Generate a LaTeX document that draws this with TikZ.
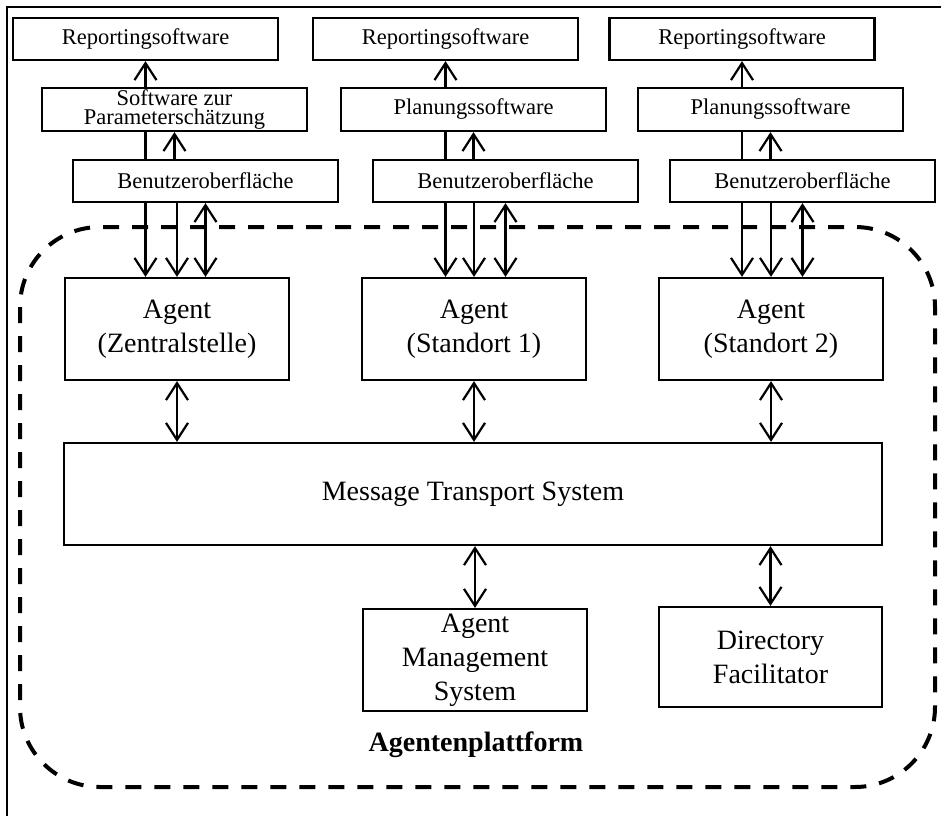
\documentclass[tikz,border=0pt]{standalone}
\usepackage{fontspec}
\setmainfont{Liberation Serif}
\usetikzlibrary{arrows.meta}
\begin{document}
\begin{tikzpicture}[x=1pt,y=-1pt,
  smallbox/.style={draw,line width=2.2pt,inner sep=0pt,minimum width=265pt,minimum height=42pt,
    align=center,font=\fontsize{22.5}{19}\selectfont},
  bigbox/.style={draw,line width=2.2pt,inner sep=0pt,minimum width=224pt,minimum height=102pt,
    align=center,font=\fontsize{28}{34}\selectfont},
  link/.style={line width=2.2pt},
  tip/.style={line width=2.2pt,arrows={-Straight Barb[length=17pt,width=22pt,line width=2.2pt]}},
  biarrow/.style={line width=2.2pt,arrows={Straight Barb[length=17pt,width=22pt,line width=2.2pt]-Straight Barb[length=17pt,width=22pt,line width=2.2pt]}},
  platform/.style={line width=4pt,dash pattern=on 16pt off 13pt,rounded corners=80pt},
  frame/.style={line width=2.7pt}]
\useasboundingbox (0,0) rectangle (941,816);

% outer frame (top and left edges)
\coordinate (fa) at (7,816);
\coordinate (fb) at (7,7);
\coordinate (fc) at (941,7);
\draw[frame] (fa) -- (fb) -- (fc);

% agent platform outline
\coordinate (pa) at (20,227);
\coordinate (pb) at (935,787);
\draw[platform] (pa) rectangle (pb);

% reporting tools
\node[smallbox] (r1) at (145.5,39) {Reportingsoftware};
\node[smallbox] (r2) at (445.5,39) {Reportingsoftware};
\node[smallbox] (r3) at (742,39) {Reportingsoftware};

% planning / estimation tools
\node[smallbox,minimum height=43pt] (p1) at (174.5,109.5) {Software zur\\Parameterschätzung};
\node[smallbox,minimum height=43pt] (p2) at (473.5,109.5) {Planungssoftware};
\node[smallbox,minimum height=43pt] (p3) at (770.5,109.5) {Planungssoftware};

% user interfaces
\node[smallbox] (b1) at (205.5,181) {Benutzeroberfläche};
\node[smallbox] (b2) at (505.5,181) {Benutzeroberfläche};
\node[smallbox] (b3) at (802.5,181) {Benutzeroberfläche};

% agents
\node[bigbox] (a1) at (177,329) {Agent\\(Zentralstelle)};
\node[bigbox] (a2) at (474,329) {Agent\\(Standort 1)};
\node[bigbox] (a3) at (771,329) {Agent\\(Standort 2)};

% platform services
\node[bigbox,minimum width=818pt] (mts) at (473,494) {Message Transport System};
\node[bigbox] (ams) at (475,660) {Agent\\Management\\System};
\node[bigbox,minimum width=223pt,minimum height=100pt] (df) at (770.5,657) {Directory\\Facilitator};

\node[font=\fontsize{28}{34}\selectfont\bfseries] (lbl) at (476,745) {Agentenplattform};

% connections per site
\foreach \i in {1,2,3}{
  \draw[tip] (p\i.north -| r\i.south) -- (r\i.south);
  \draw[link] (b\i.north -| r\i.south) -- (p\i.south -| r\i.south);
  \draw[tip] (b\i.north -| p\i.south) -- (p\i.south);
  \draw[tip] (b\i.south -| r\i.south) -- (a\i.north -| r\i.south);
  \draw[tip] (b\i.south -| a\i.north) -- (a\i.north);
  \draw[biarrow] (b\i.south) -- (a\i.north -| b\i.south);
  \draw[biarrow] (a\i.south) -- (mts.north -| a\i.south);
}
\draw[biarrow] (mts.south -| ams.north) -- (ams.north);
\draw[biarrow] (mts.south -| df.north) -- (df.north);
\end{tikzpicture}
\end{document}
